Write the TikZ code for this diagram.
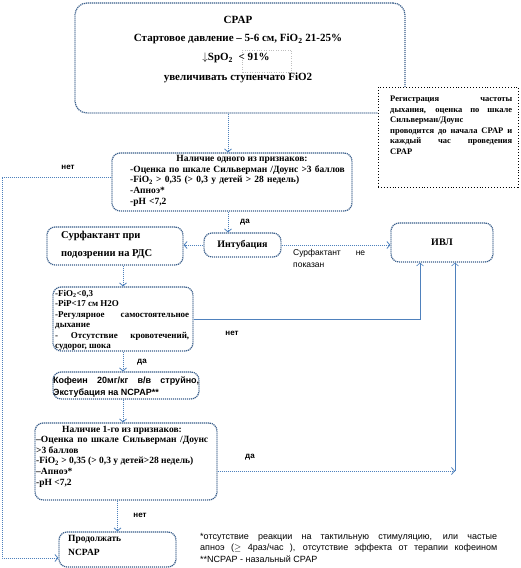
\documentclass[tikz,border=0pt]{standalone}
\usepackage{fontspec}
\setmainfont{Liberation Serif}
\newfontfamily\arialfont{Liberation Sans}
\usetikzlibrary{arrows.meta, positioning, calc}
\definecolor{boxblue}{HTML}{385D8A}
\definecolor{flowblue}{HTML}{4F81BD}

\begin{document}
\begin{tikzpicture}[
		x=1pt, y=-1pt,
		box/.style={draw=boxblue, line width=1.2pt, dash pattern=on 1.2pt off 0.8pt, rounded corners=8pt, fill=white, inner sep=0pt},
		flow/.style={draw=flowblue, line width=0.8pt, dash pattern=on 1pt off 1pt, -{Straight Barb[length=3pt, width=7pt]}},
		link/.style={draw=flowblue, line width=0.6pt, -{Straight Barb[length=3pt, width=7pt]}},
		btxt/.style={font=\bfseries\fontsize{9.5}{10.75}\selectfont, inner sep=0pt},
		lbl/.style={font=\arialfont\bfseries\fontsize{8}{9}\selectfont, inner sep=0pt},
		>=Stealth
	]
		\useasboundingbox (0,0) rectangle (520,568);

		% CPAP
		\node[box, rounded corners=12pt, minimum width=330pt, minimum height=110pt] (cpap) at (240,58) {};
		\node[draw=gray!50, dotted, minimum width=49pt, minimum height=22pt] (spo) at (267,61) {};
		\node[btxt, font=\bfseries\fontsize{11}{13}\selectfont] (cpapT) at (238,20) {CPAP};
		\node[btxt, font=\bfseries\fontsize{11}{13}\selectfont] (cpapP) at (238,39) {Стартовое давление – 5-6 см, FiO\textsubscript{2} 21-25\%};
		\node[btxt, font=\bfseries\fontsize{11}{13}\selectfont] (cpapS) at (236,58) {$\downarrow$SpO\textsubscript{2} \ < 91\%};
		\node[btxt, font=\bfseries\fontsize{11}{13}\selectfont] (cpapF) at (238,78) {увеличивать ступенчато FiO2};

		% Registration note
		\node[draw=black, dotted, line width=0.9pt, fill=white, minimum width=140pt, minimum height=100pt] (reg) at (448,137) {};
		\node[btxt, font=\bfseries\fontsize{8.5}{10.5}\selectfont, anchor=north west, text width=122pt, align=justify] (regT) at (390,96)
			{Регистрация частоты\linebreak дыхания, оценка по шкале\linebreak Сильверман/Доунс\\ проводится до начала CPAP и\linebreak каждый час проведения\linebreak CPAP};

		% Condition 1
		\node[box, minimum width=240pt, minimum height=58pt] (cond1) at (232,182) {};
		\node[btxt] (c1title) at (242,159) {Наличие одного из признаков:};
		\node[btxt, anchor=north west, text width=222pt, align=left] (c1list) at (130,165)
			{-Оценка по шкале Сильверман /Доунс >3 баллов\\ -FiO\textsubscript{2} > 0,35 (> 0,3 у детей > 28 недель)\\ -Апноэ*\\ -pH <7,2};
		\node[lbl] (no1) at (68,167) {нет};
		\node[lbl] (yes1) at (245,222) {да};

		% Surfactant, intubation, ventilation
		\node[box, minimum width=136pt, minimum height=38pt] (surf) at (115,246) {};
		\node[btxt, font=\bfseries\fontsize{10.5}{18}\selectfont, anchor=north west, align=left] (surfT) at (61,231)
			{Сурфактант при\\ подозрении на РДС};
		\node[box, minimum width=77pt, minimum height=24pt, font=\bfseries\fontsize{10}{12}\selectfont] (intub) at (242.5,245) {Интубация};
		\node[box, minimum width=102pt, minimum height=39pt, font=\bfseries\fontsize{10}{12}\selectfont] (ivl) at (442,242.5) {ИВЛ};
		\node[font=\arialfont\fontsize{8.5}{12}\selectfont, inner sep=0pt, anchor=north west, text width=72pt, align=justify] (nosurf) at (293,249)
			{Сурфактант не\linebreak показан};

		% Extubation criteria
		\node[box, minimum width=140pt, minimum height=64pt] (crit2) at (123,319) {};
		\node[btxt, font=\bfseries\fontsize{9}{10.5}\selectfont, anchor=north west, text width=134pt, align=justify] (crit2T) at (55,290)
			{-FiO\textsubscript{2}<0,3\\ -PiP<17 см H2O\\ -Регулярное самостоятельное дыхание\\ - Отсутствие кровотечений, судорог, шока};
		\node[lbl] (no2) at (232,333) {нет};
		\node[lbl] (yes2) at (142,362) {да};

		% Caffeine
		\node[box, minimum width=146pt, minimum height=27pt] (caff) at (126,385.5) {};
		\node[font=\arialfont\bfseries\fontsize{9}{12}\selectfont, inner sep=0pt, anchor=north west, text width=146pt, align=justify] (caffT) at (53,377)
			{Кофеин 20мг/кг в/в струйно,\linebreak Экстубация на NCPAP**};

		% Condition 2
		\node[box, minimum width=182pt, minimum height=77pt] (crit3) at (126,461.5) {};
		\node[btxt] (c3title) at (122,430) {Наличие 1-го из признаков:};
		\node[btxt, anchor=north west, text width=172pt, align=justify] (c3list) at (36,436)
			{–Оценка по шкале Сильверман /Доунс\linebreak >3 баллов\\ -FiO\textsubscript{2} > 0,35 (> 0,3 у детей>28 недель)\\ –Апноэ*\\ -pH <7,2};
		\node[lbl] (yes3) at (250,457) {да};
		\node[lbl] (no3) at (140,515) {нет};

		% Continue
		\node[box, minimum width=117pt, minimum height=35pt] (cont) at (117.5,549.5) {};
		\node[btxt, font=\bfseries\fontsize{9.5}{14}\selectfont, anchor=north west, align=left] (contT) at (68,535) {Продолжать\\ NCPAP};

		% Footnotes
		\node[font=\arialfont\fontsize{9}{11.5}\selectfont, inner sep=0pt, anchor=north west, text width=297pt, align=justify] (notes) at (200,533)
			{*отсутствие реакции на тактильную стимуляцию, или частые\linebreak апноэ ($\geq$ 4раз/час ), отсутствие эффекта от терапии кофеином\linebreak **NCPAP - назальный CPAP};

		% Connectors
		\coordinate (leftBot) at (2,558);
		\coordinate (ivlCorner) at (455,471);
		\draw[flow] ([xshift=-4pt]cond1.north |- cpap.south) -- ([xshift=-4pt]cond1.north);
		\draw[flow] ([xshift=-4pt]cond1.south) -- ([xshift=-4pt]cond1.south |- intub.north);
		\draw[flow] (intub.west) -- (intub.west -| surf.east);
		\draw[flow] (intub.east) -- (intub.east -| ivl.west);
		\draw[flow] (surf.south -| crit2) -- (crit2.north);
		\draw[flow] (crit2.south) -- (crit2.south |- caff.north);
		\draw[flow] (caff.south -| crit2) -- (crit2 |- crit3.north);
		\draw[flow] (crit3.south -| cont) -- (cont.north);
		\draw[flow] ([yshift=5pt]cond1.west) -| (leftBot) -- (leftBot -| cont.west);
		\draw[link] (crit2.east) -| ([xshift=-22pt]ivl.south);
		\draw[flow] ([yshift=-9.5pt]crit3.east) -- (ivlCorner);
		\draw[link] (ivlCorner) -- (ivlCorner |- ivl.south);
	\end{tikzpicture}
\end{document}
